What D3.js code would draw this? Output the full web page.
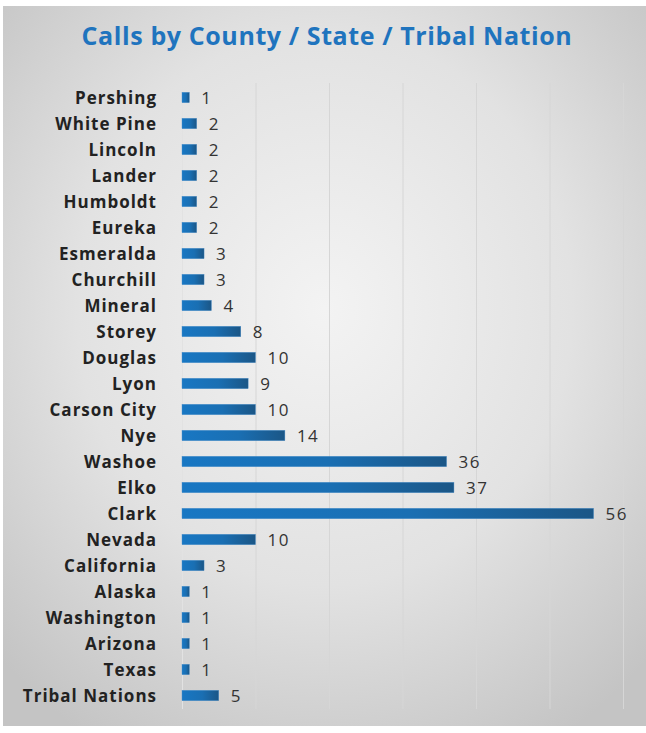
<!DOCTYPE html>
<html><head><meta charset="utf-8">
<script src="https://cdn.jsdelivr.net/npm/d3@7"></script>
<style>html,body{margin:0;padding:0;background:#fff;}svg{display:block;}</style>
</head><body>
<svg id="c" width="646" height="733"></svg>
<script>
const categories = ["Pershing","White Pine","Lincoln","Lander","Humboldt","Eureka","Esmeralda","Churchill","Mineral","Storey","Douglas","Lyon","Carson City","Nye","Washoe","Elko","Clark","Nevada","California","Alaska","Washington","Arizona","Texas","Tribal Nations"];
const values = [1,2,2,2,2,2,3,3,4,8,10,9,10,14,36,37,56,10,3,1,1,1,1,5];
const xTicks = [0,10,20,30,40,50,60];
const title = "Calls by County / State / Tribal Nation";

const svg = d3.select("#c");
const defs = svg.append("defs");
const rg = defs.append("radialGradient").attr("id","bg").attr("cx","50%").attr("cy","42%").attr("r","70%");
rg.append("stop").attr("offset","0%").attr("stop-color","#f3f3f3");
rg.append("stop").attr("offset","55%").attr("stop-color","#e2e2e2");
rg.append("stop").attr("offset","100%").attr("stop-color","#c4c4c4");
const lg = defs.append("linearGradient").attr("id","bar").attr("x1","0").attr("x2","1").attr("y1","0").attr("y2","0");
lg.append("stop").attr("offset","0%").attr("stop-color","#1877c3");
lg.append("stop").attr("offset","55%").attr("stop-color","#1a6fb3");
lg.append("stop").attr("offset","100%").attr("stop-color","#1b5686");

svg.append("rect").attr("x",3).attr("y",6).attr("width",643).attr("height",720).attr("fill","url(#bg)");

const x = d3.scaleLinear().domain([0,60]).range([182,623]);
const y = d3.scaleBand().domain(categories).range([84.5,708.5]).paddingInner(0.6).paddingOuter(0.3);

svg.append("g").selectAll("line").data(xTicks).join("line")
  .attr("x1",d=>x(d)+0.5).attr("x2",d=>x(d)+0.5).attr("y1",83).attr("y2",709)
  .attr("stroke",d=>d===0?"#e2e2e2":"#d6d6d6").attr("stroke-width",1);

svg.append("text").attr("x",327).attr("y",45).attr("text-anchor","middle")
  .attr("font-family","Open Sans").attr("font-weight",700).attr("font-size",25)
  .attr("letter-spacing",0.6)
  .attr("fill","#1f74be").text(title);

const data = categories.map((c,i)=>({c,v:values[i]}));

svg.append("g").selectAll("rect").data(data).join("rect")
  .attr("x",x(0)).attr("y",d=>y(d.c)).attr("width",d=>x(d.v)-x(0)).attr("height",y.bandwidth())
  .attr("fill","url(#bar)").attr("stroke","#4a8fcb").attr("stroke-width",0.4);

svg.append("g").selectAll("text").data(data).join("text")
  .attr("x",157).attr("y",d=>y(d.c)+y.bandwidth()/2).attr("dy","0.36em").attr("text-anchor","end")
  .attr("font-family","Open Sans").attr("font-weight",700).attr("font-size",17).attr("fill","#222")
  .attr("letter-spacing",1)
  .text(d=>d.c);

svg.append("g").selectAll("text").data(data).join("text")
  .attr("x",d=>x(d.v)+12).attr("y",d=>y(d.c)+y.bandwidth()/2).attr("dy","0.36em")
  .attr("font-family","Open Sans").attr("font-size",17).attr("fill","#333")
  .attr("letter-spacing",1.5)
  .text(d=>d.v);
</script>
</body></html>
